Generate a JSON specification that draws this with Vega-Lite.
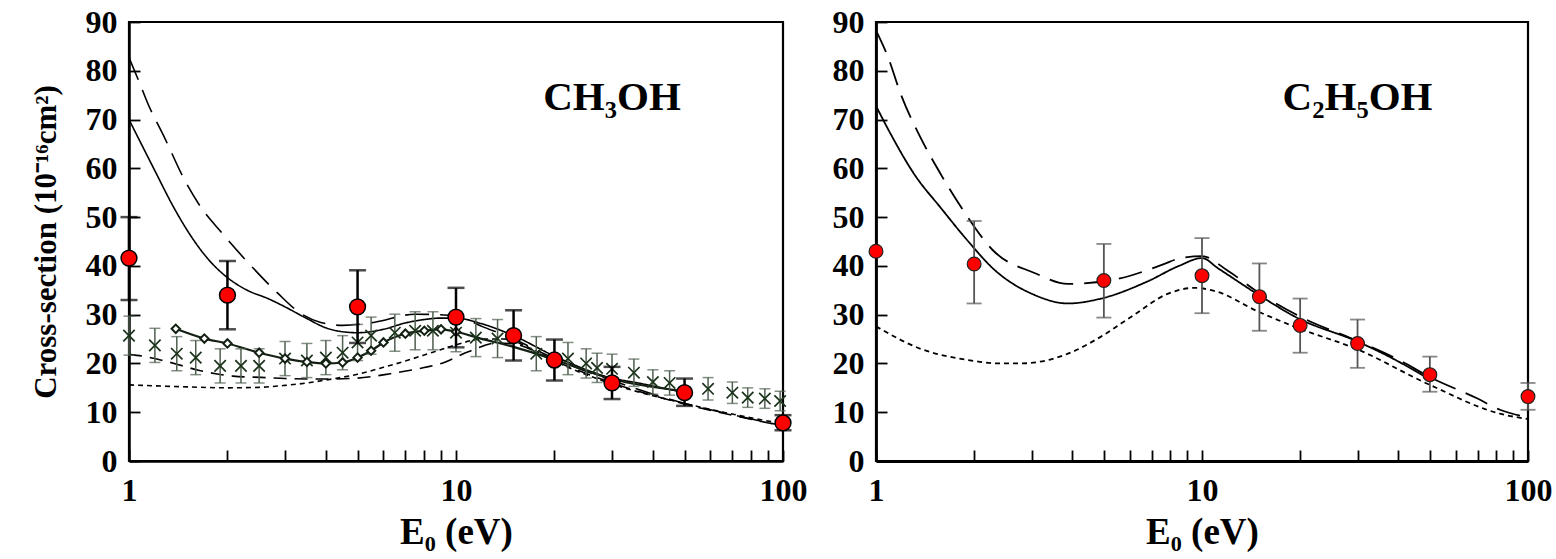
{
  "$schema": "https://vega.github.io/schema/vega-lite/v6.json",
  "background": "white",
  "padding": {"left": 28, "top": 4, "right": 2, "bottom": 0},
  "bounds": "flush",
  "spacing": 93,
  "config": {
    "view": {"stroke": "black", "strokeWidth": 2.2},
    "axis": {
      "labelFont": "Liberation Serif", "labelFontWeight": "bold", "labelFontSize": 32, "labelColor": "black",
      "titleFont": "Liberation Serif", "titleFontWeight": "bold", "titleColor": "black",
      "grid": false, "labelOverlap": false, "labelFlush": false
    }
  },
  "datasets": {
    "ch3_lines": [
      {"E": 1, "cs": 70, "model": "A"}, {"E": 1.1, "cs": 64.5, "model": "A"}, {"E": 1.2, "cs": 59.5, "model": "A"}, {"E": 1.37, "cs": 52, "model": "A"}, {"E": 1.5, "cs": 47.5, "model": "A"}, {"E": 1.74, "cs": 41.5, "model": "A"}, {"E": 2, "cs": 37.6, "model": "A"}, {"E": 2.3, "cs": 35, "model": "A"}, {"E": 2.66, "cs": 33.3, "model": "A"}, {"E": 3, "cs": 31.6, "model": "A"}, {"E": 3.5, "cs": 29.2, "model": "A"}, {"E": 4, "cs": 27.3, "model": "A"}, {"E": 4.5, "cs": 26.5, "model": "A"}, {"E": 5, "cs": 26.3, "model": "A"}, {"E": 6, "cs": 27, "model": "A"}, {"E": 7, "cs": 28.3, "model": "A"}, {"E": 8, "cs": 29, "model": "A"}, {"E": 9, "cs": 29.3, "model": "A"}, {"E": 10, "cs": 29.3, "model": "A"}, {"E": 11.9, "cs": 28.2, "model": "A"}, {"E": 15, "cs": 25.7, "model": "A"}, {"E": 20, "cs": 21.5, "model": "A"}, {"E": 30, "cs": 17, "model": "A"}, {"E": 36, "cs": 16, "model": "A"}, {"E": 50, "cs": 14, "model": "A"},
      {"E": 1, "cs": 82.7, "model": "B"}, {"E": 1.07, "cs": 78, "model": "B"}, {"E": 1.14, "cs": 73.4, "model": "B"}, {"E": 1.28, "cs": 66.5, "model": "B"}, {"E": 1.49, "cs": 57.2, "model": "B"}, {"E": 1.66, "cs": 52, "model": "B"}, {"E": 1.91, "cs": 47, "model": "B"}, {"E": 2.4, "cs": 39.5, "model": "B"}, {"E": 2.85, "cs": 34.4, "model": "B"}, {"E": 3.36, "cs": 30.2, "model": "B"}, {"E": 3.86, "cs": 28.4, "model": "B"}, {"E": 4.5, "cs": 27.8, "model": "B"}, {"E": 5.6, "cs": 28.4, "model": "B"}, {"E": 7.5, "cs": 30.1, "model": "B"}, {"E": 10, "cs": 29.8, "model": "B"}, {"E": 12, "cs": 27.6, "model": "B"}, {"E": 15, "cs": 25, "model": "B"}, {"E": 20, "cs": 21, "model": "B"}, {"E": 30, "cs": 16.5, "model": "B"}, {"E": 50, "cs": 11.8, "model": "B"}, {"E": 70, "cs": 9.5, "model": "B"}, {"E": 100, "cs": 7.2, "model": "B"},
      {"E": 1, "cs": 21.8, "model": "C"}, {"E": 1.1, "cs": 21.5, "model": "C"}, {"E": 1.27, "cs": 20.6, "model": "C"}, {"E": 1.46, "cs": 19.5, "model": "C"}, {"E": 1.63, "cs": 18.6, "model": "C"}, {"E": 1.84, "cs": 17.9, "model": "C"}, {"E": 2.08, "cs": 17.4, "model": "C"}, {"E": 2.62, "cs": 17.1, "model": "C"}, {"E": 3, "cs": 16.9, "model": "C"}, {"E": 4, "cs": 16.8, "model": "C"}, {"E": 5, "cs": 17, "model": "C"}, {"E": 6.3, "cs": 17.9, "model": "C"}, {"E": 7.65, "cs": 18.9, "model": "C"}, {"E": 9.2, "cs": 20.2, "model": "C"}, {"E": 10.9, "cs": 22.4, "model": "C"}, {"E": 13.4, "cs": 24.2, "model": "C"}, {"E": 15, "cs": 24, "model": "C"}, {"E": 20, "cs": 20.5, "model": "C"}, {"E": 30, "cs": 16, "model": "C"}, {"E": 50, "cs": 11.7, "model": "C"}, {"E": 100, "cs": 7.2, "model": "C"},
      {"E": 1, "cs": 15.6, "model": "D"}, {"E": 1.5, "cs": 15.2, "model": "D"}, {"E": 2, "cs": 15, "model": "D"}, {"E": 2.5, "cs": 15.1, "model": "D"}, {"E": 3, "cs": 15.5, "model": "D"}, {"E": 3.5, "cs": 16, "model": "D"}, {"E": 4, "cs": 16.6, "model": "D"}, {"E": 5, "cs": 17.8, "model": "D"}, {"E": 6, "cs": 19.2, "model": "D"}, {"E": 7, "cs": 20.5, "model": "D"}, {"E": 8.5, "cs": 22.3, "model": "D"}, {"E": 10, "cs": 23.8, "model": "D"}, {"E": 12, "cs": 25, "model": "D"}, {"E": 14, "cs": 25, "model": "D"}, {"E": 17, "cs": 23, "model": "D"}, {"E": 20, "cs": 20.5, "model": "D"}, {"E": 30, "cs": 15.8, "model": "D"}, {"E": 50, "cs": 11.8, "model": "D"}, {"E": 100, "cs": 7.6, "model": "D"}
    ],
    "ch3_diam_line": [
      {"E": 1.39, "cs": 27.1}, {"E": 1.7, "cs": 25.1}, {"E": 2, "cs": 24.1}, {"E": 2.5, "cs": 22.2}, {"E": 3, "cs": 21}, {"E": 3.5, "cs": 20.3}, {"E": 4, "cs": 20}, {"E": 4.5, "cs": 20.2}, {"E": 5, "cs": 21.2}, {"E": 5.5, "cs": 22.6}, {"E": 6, "cs": 24.3}, {"E": 7, "cs": 26.1}, {"E": 8, "cs": 26.7}, {"E": 9, "cs": 27}, {"E": 10, "cs": 26.5}, {"E": 11.9, "cs": 25.1}, {"E": 15, "cs": 23.4}, {"E": 20, "cs": 20.8}, {"E": 30, "cs": 16.8}, {"E": 50, "cs": 14.3}
    ],
    "ch3_diam": [
      {"E": 1.39, "cs": 27.1}, {"E": 1.7, "cs": 25.1}, {"E": 2, "cs": 24.1}, {"E": 2.5, "cs": 22.2}, {"E": 3, "cs": 21}, {"E": 3.5, "cs": 20.3}, {"E": 4, "cs": 20}, {"E": 4.5, "cs": 20.2}, {"E": 5, "cs": 21.2}, {"E": 5.5, "cs": 22.6}, {"E": 6, "cs": 24.3}, {"E": 7, "cs": 26.1}, {"E": 8, "cs": 26.7}, {"E": 9, "cs": 27}, {"E": 10, "cs": 26.5}
    ],
    "ch3_cross": [
      {"E": 1, "cs": 25.7}, {"E": 1.2, "cs": 23.7}, {"E": 1.4, "cs": 22}, {"E": 1.6, "cs": 21.2}, {"E": 1.9, "cs": 19.5}, {"E": 2.2, "cs": 19.5}, {"E": 2.5, "cs": 19.5}, {"E": 3, "cs": 21}, {"E": 3.5, "cs": 20.6}, {"E": 4, "cs": 21.2}, {"E": 4.5, "cs": 22.2}, {"E": 5, "cs": 24.3}, {"E": 5.5, "cs": 25.7}, {"E": 6.5, "cs": 26.3}, {"E": 7.5, "cs": 26.7}, {"E": 8.5, "cs": 26.7}, {"E": 10, "cs": 26.3}, {"E": 11.5, "cs": 25.3}, {"E": 13.4, "cs": 25.1}, {"E": 17.6, "cs": 22}, {"E": 22, "cs": 21}, {"E": 25, "cs": 20}, {"E": 27, "cs": 19.1}, {"E": 30, "cs": 18.9}, {"E": 35, "cs": 18.1}, {"E": 40, "cs": 16.2}, {"E": 45, "cs": 16}, {"E": 59, "cs": 14.8}, {"E": 70, "cs": 14}, {"E": 78, "cs": 13}, {"E": 88, "cs": 12.8}, {"E": 98, "cs": 12.3}
    ],
    "ch3_cross_err": [
      {"E": 1, "cs": 21.7}, {"E": 1, "cs": 29.7}, {"E": 1.2, "cs": 20.2}, {"E": 1.2, "cs": 27.2}, {"E": 1.4, "cs": 18.5}, {"E": 1.4, "cs": 25.5}, {"E": 1.6, "cs": 17.7}, {"E": 1.6, "cs": 24.7}, {"E": 1.9, "cs": 16}, {"E": 1.9, "cs": 23}, {"E": 2.2, "cs": 16}, {"E": 2.2, "cs": 23}, {"E": 2.5, "cs": 16}, {"E": 2.5, "cs": 23}, {"E": 3, "cs": 17.5}, {"E": 3, "cs": 24.5}, {"E": 3.5, "cs": 17.1}, {"E": 3.5, "cs": 24.1}, {"E": 4, "cs": 17.7}, {"E": 4, "cs": 24.7}, {"E": 4.5, "cs": 18.7}, {"E": 4.5, "cs": 25.7}, {"E": 5, "cs": 20.6}, {"E": 5, "cs": 28}, {"E": 5.5, "cs": 21.9}, {"E": 5.5, "cs": 29.5}, {"E": 6.5, "cs": 22.5}, {"E": 6.5, "cs": 30.1}, {"E": 7.5, "cs": 22.8}, {"E": 7.5, "cs": 30.6}, {"E": 8.5, "cs": 22.8}, {"E": 8.5, "cs": 30.6}, {"E": 10, "cs": 22.4}, {"E": 10, "cs": 30.2}, {"E": 11.5, "cs": 21.4}, {"E": 11.5, "cs": 29.2}, {"E": 13.4, "cs": 21.2}, {"E": 13.4, "cs": 29}, {"E": 17.6, "cs": 18.5}, {"E": 17.6, "cs": 25.5}, {"E": 22, "cs": 17.7}, {"E": 22, "cs": 24.3}, {"E": 25, "cs": 17}, {"E": 25, "cs": 23}, {"E": 27, "cs": 16.1}, {"E": 27, "cs": 22.1}, {"E": 30, "cs": 15.9}, {"E": 30, "cs": 21.9}, {"E": 35, "cs": 15.3}, {"E": 35, "cs": 20.9}, {"E": 40, "cs": 13.7}, {"E": 40, "cs": 18.7}, {"E": 45, "cs": 13.5}, {"E": 45, "cs": 18.5}, {"E": 59, "cs": 12.5}, {"E": 59, "cs": 17.1}, {"E": 70, "cs": 11.8}, {"E": 70, "cs": 16.2}, {"E": 78, "cs": 11}, {"E": 78, "cs": 15}, {"E": 88, "cs": 10.8}, {"E": 88, "cs": 14.8}, {"E": 98, "cs": 10.3}, {"E": 98, "cs": 14.3}
    ],
    "ch3_pts": [
      {"E": 1, "cs": 41.6}, {"E": 2, "cs": 34}, {"E": 5, "cs": 31.6}, {"E": 10, "cs": 29.5}, {"E": 15, "cs": 25.7}, {"E": 20, "cs": 20.7}, {"E": 30, "cs": 16}, {"E": 50, "cs": 14}, {"E": 100, "cs": 7.8}
    ],
    "ch3_pts_err": [
      {"E": 1, "cs": 33}, {"E": 1, "cs": 50}, {"E": 2, "cs": 27}, {"E": 2, "cs": 41}, {"E": 5, "cs": 24.2}, {"E": 5, "cs": 39.1}, {"E": 10, "cs": 23.3}, {"E": 10, "cs": 35.5}, {"E": 15, "cs": 20.6}, {"E": 15, "cs": 30.9}, {"E": 20, "cs": 16.5}, {"E": 20, "cs": 24.9}, {"E": 30, "cs": 12.7}, {"E": 30, "cs": 19.3}, {"E": 50, "cs": 11.3}, {"E": 50, "cs": 16.9}, {"E": 100, "cs": 6.3}, {"E": 100, "cs": 9.4}
    ],
    "c2_lines": [
      {"E": 1, "cs": 72.8, "model": "A"}, {"E": 1.11, "cs": 67, "model": "A"}, {"E": 1.31, "cs": 58.8, "model": "A"}, {"E": 1.58, "cs": 51.9, "model": "A"}, {"E": 1.92, "cs": 45, "model": "A"}, {"E": 2.3, "cs": 39.3, "model": "A"}, {"E": 3.05, "cs": 34.1, "model": "A"}, {"E": 3.88, "cs": 32.3, "model": "A"}, {"E": 4.9, "cs": 33.3, "model": "A"}, {"E": 6.8, "cs": 36.8, "model": "A"}, {"E": 8.5, "cs": 40, "model": "A"}, {"E": 10, "cs": 41.6, "model": "A"}, {"E": 11.2, "cs": 39.5, "model": "A"}, {"E": 14.8, "cs": 34.2, "model": "A"}, {"E": 19.8, "cs": 29.2, "model": "A"}, {"E": 29.7, "cs": 24.6, "model": "A"}, {"E": 38, "cs": 21.2, "model": "A"}, {"E": 50, "cs": 16.7, "model": "A"},
      {"E": 1, "cs": 88.3, "model": "B"}, {"E": 1.09, "cs": 82.7, "model": "B"}, {"E": 1.19, "cs": 75.3, "model": "B"}, {"E": 1.37, "cs": 66.3, "model": "B"}, {"E": 1.58, "cs": 58.8, "model": "B"}, {"E": 1.86, "cs": 51.2, "model": "B"}, {"E": 2.3, "cs": 43, "model": "B"}, {"E": 3.05, "cs": 38.6, "model": "B"}, {"E": 3.88, "cs": 36.3, "model": "B"}, {"E": 5.4, "cs": 37.2, "model": "B"}, {"E": 7.6, "cs": 40.3, "model": "B"}, {"E": 8.6, "cs": 41.6, "model": "B"}, {"E": 10, "cs": 42, "model": "B"}, {"E": 12, "cs": 39, "model": "B"}, {"E": 15, "cs": 34.4, "model": "B"}, {"E": 20, "cs": 29.6, "model": "B"}, {"E": 30, "cs": 24.6, "model": "B"}, {"E": 40, "cs": 20.8, "model": "B"}, {"E": 50, "cs": 17.2, "model": "B"}, {"E": 70, "cs": 12.8, "model": "B"}, {"E": 82, "cs": 10.5, "model": "B"}, {"E": 100, "cs": 9, "model": "B"},
      {"E": 1, "cs": 27.6, "model": "D"}, {"E": 1.37, "cs": 23, "model": "D"}, {"E": 1.92, "cs": 20.7, "model": "D"}, {"E": 2.37, "cs": 20, "model": "D"}, {"E": 2.78, "cs": 20, "model": "D"}, {"E": 3.88, "cs": 22, "model": "D"}, {"E": 4.9, "cs": 25.5, "model": "D"}, {"E": 6.2, "cs": 30, "model": "D"}, {"E": 7.8, "cs": 34.2, "model": "D"}, {"E": 9.5, "cs": 35.5, "model": "D"}, {"E": 11, "cs": 34.8, "model": "D"}, {"E": 14.8, "cs": 30.7, "model": "D"}, {"E": 19.8, "cs": 27.2, "model": "D"}, {"E": 29.7, "cs": 23, "model": "D"}, {"E": 50, "cs": 15.6, "model": "D"}, {"E": 82, "cs": 9.7, "model": "D"}, {"E": 100, "cs": 8.6, "model": "D"}
    ],
    "c2_pts": [
      {"E": 1, "cs": 43}, {"E": 2, "cs": 40.4}, {"E": 5, "cs": 37}, {"E": 10, "cs": 38}, {"E": 15, "cs": 33.7}, {"E": 20, "cs": 27.8}, {"E": 30, "cs": 24.1}, {"E": 50, "cs": 17.7}, {"E": 100, "cs": 13.2}
    ],
    "c2_pts_err": [
      {"E": 2, "cs": 32.3}, {"E": 2, "cs": 49.2}, {"E": 5, "cs": 29.4}, {"E": 5, "cs": 44.5}, {"E": 10, "cs": 30.3}, {"E": 10, "cs": 45.7}, {"E": 15, "cs": 26.7}, {"E": 15, "cs": 40.5}, {"E": 20, "cs": 22.2}, {"E": 20, "cs": 33.3}, {"E": 30, "cs": 19.1}, {"E": 30, "cs": 29}, {"E": 50, "cs": 14.2}, {"E": 50, "cs": 21.4}, {"E": 100, "cs": 10.5}, {"E": 100, "cs": 16}
    ],
    "labels": [
      {"panel": "left", "E": 30, "cs": 74.5, "txt": "CH₃OH"},
      {"panel": "right", "E": 30, "cs": 74.5, "txt": "C₂H₅OH"}
    ]
  },
  "hconcat": [
    {
      "width": 654, "height": 439,
      "layer": [
        {
          "data": {"name": "ch3_lines"},
          "mark": {"type": "line", "color": "black", "strokeWidth": 1.6, "interpolate": "monotone"},
          "encoding": {
            "x": {"field": "E", "type": "quantitative",
              "scale": {"type": "log", "domain": [1, 100]},
              "axis": {"title": "E₀ (eV)", "titleFontSize": 37, "titlePadding": 8,
                "values": [1, 2, 3, 4, 5, 6, 7, 8, 9, 10, 20, 30, 40, 50, 60, 70, 80, 90, 100],
                "labelExpr": "indexof([1,10,100], datum.value) >= 0 ? datum.label : ''", "format": "d",
                "tickSize": -11, "tickColor": "black", "tickWidth": 1.8,
                "domainColor": "black", "domainWidth": 2.5, "labelPadding": 25}},
            "y": {"field": "cs", "type": "quantitative",
              "scale": {"domain": [0, 90]},
              "axis": {"title": "Cross-section (10⁻¹⁶cm²)", "titleFontSize": 31, "titlePadding": 23,
                "values": [0, 2.5, 5, 7.5, 10, 12.5, 15, 17.5, 20, 22.5, 25, 27.5, 30, 32.5, 35, 37.5, 40, 42.5, 45, 47.5, 50, 52.5, 55, 57.5, 60, 62.5, 65, 67.5, 70, 72.5, 75, 77.5, 80, 82.5, 85, 87.5, 90],
                "labelExpr": "datum.value % 10 == 0 ? datum.label : ''",
                "tickSize": -11, "tickColor": "black", "tickWidth": 1.8,
                "domainColor": "black", "domainWidth": 2.5, "labelPadding": 23}},
            "strokeDash": {"field": "model", "type": "nominal",
              "scale": {"domain": ["A", "B", "C", "D"], "range": [[1, 0], [24, 11], [13, 8], [5, 4]]},
              "legend": null}
          }
        },
        {
          "data": {"name": "ch3_diam_line"},
          "mark": {"type": "line", "color": "#142014", "strokeWidth": 2.2, "interpolate": "monotone"},
          "encoding": {"x": {"field": "E", "type": "quantitative"}, "y": {"field": "cs", "type": "quantitative"}}
        },
        {
          "data": {"name": "ch3_cross_err"},
          "mark": {"type": "line", "color": "#4f5f4f", "strokeWidth": 1.5},
          "encoding": {"x": {"field": "E", "type": "quantitative"}, "y": {"field": "cs", "type": "quantitative"}, "detail": {"field": "E", "type": "nominal"}}
        },
        {
          "data": {"name": "ch3_cross_err"},
          "mark": {"type": "tick", "orient": "horizontal", "color": "#4f5f4f", "size": 11, "thickness": 1.5},
          "encoding": {"x": {"field": "E", "type": "quantitative"}, "y": {"field": "cs", "type": "quantitative"}}
        },
        {
          "data": {"name": "ch3_cross"},
          "mark": {"type": "point", "shape": "M-1,-1L1,1M-1,1L1,-1", "filled": false, "stroke": "#1b321b", "strokeWidth": 1.7, "size": 130, "opacity": 1},
          "encoding": {"x": {"field": "E", "type": "quantitative"}, "y": {"field": "cs", "type": "quantitative"}}
        },
        {
          "data": {"name": "ch3_diam"},
          "mark": {"type": "point", "shape": "diamond", "filled": true, "fill": "white", "stroke": "#142014", "strokeWidth": 2, "size": 70, "opacity": 1},
          "encoding": {"x": {"field": "E", "type": "quantitative"}, "y": {"field": "cs", "type": "quantitative"}}
        },
        {
          "data": {"name": "ch3_pts_err"},
          "mark": {"type": "line", "color": "black", "strokeWidth": 2.5},
          "encoding": {"x": {"field": "E", "type": "quantitative"}, "y": {"field": "cs", "type": "quantitative"}, "detail": {"field": "E", "type": "nominal"}}
        },
        {
          "data": {"name": "ch3_pts_err"},
          "mark": {"type": "tick", "orient": "horizontal", "color": "black", "size": 17, "thickness": 2.5},
          "encoding": {"x": {"field": "E", "type": "quantitative"}, "y": {"field": "cs", "type": "quantitative"}}
        },
        {
          "data": {"name": "ch3_pts"},
          "mark": {"type": "point", "shape": "circle", "filled": true, "fill": "#ff0000", "stroke": "black", "strokeWidth": 1.5, "size": 250, "opacity": 1},
          "encoding": {"x": {"field": "E", "type": "quantitative"}, "y": {"field": "cs", "type": "quantitative"}}
        },
        {
          "data": {"name": "labels"},
          "transform": [{"filter": "datum.panel == 'left'"}],
          "mark": {"type": "text", "font": "Liberation Serif", "fontWeight": "bold", "fontSize": 41, "color": "black", "align": "center", "baseline": "middle"},
          "encoding": {"x": {"field": "E", "type": "quantitative"}, "y": {"field": "cs", "type": "quantitative"}, "text": {"field": "txt"}}
        }
      ]
    },
    {
      "width": 652, "height": 439,
      "layer": [
        {
          "data": {"name": "c2_lines"},
          "mark": {"type": "line", "color": "black", "strokeWidth": 1.8, "interpolate": "monotone"},
          "encoding": {
            "x": {"field": "E", "type": "quantitative",
              "scale": {"type": "log", "domain": [1, 100]},
              "axis": {"title": "E₀ (eV)", "titleFontSize": 37, "titlePadding": 8,
                "values": [1, 2, 3, 4, 5, 6, 7, 8, 9, 10, 20, 30, 40, 50, 60, 70, 80, 90, 100],
                "labelExpr": "indexof([1,10,100], datum.value) >= 0 ? datum.label : ''", "format": "d",
                "tickSize": -11, "tickColor": "black", "tickWidth": 1.8,
                "domainColor": "black", "domainWidth": 2.8, "labelPadding": 25}},
            "y": {"field": "cs", "type": "quantitative",
              "scale": {"domain": [0, 90]},
              "axis": {"title": null,
                "values": [0, 2.5, 5, 7.5, 10, 12.5, 15, 17.5, 20, 22.5, 25, 27.5, 30, 32.5, 35, 37.5, 40, 42.5, 45, 47.5, 50, 52.5, 55, 57.5, 60, 62.5, 65, 67.5, 70, 72.5, 75, 77.5, 80, 82.5, 85, 87.5, 90],
                "labelExpr": "datum.value % 10 == 0 ? datum.label : ''",
                "tickSize": -11, "tickColor": "black", "tickWidth": 1.8,
                "domainColor": "black", "domainWidth": 2.8, "labelPadding": 23}},
            "strokeDash": {"field": "model", "type": "nominal",
              "scale": {"domain": ["A", "B", "D"], "range": [[1, 0], [16, 6, 3, 6], [5, 4]]},
              "legend": null}
          }
        },
        {
          "data": {"name": "c2_pts_err"},
          "mark": {"type": "line", "color": "#555555", "strokeWidth": 1.8},
          "encoding": {"x": {"field": "E", "type": "quantitative"}, "y": {"field": "cs", "type": "quantitative"}, "detail": {"field": "E", "type": "nominal"}}
        },
        {
          "data": {"name": "c2_pts_err"},
          "mark": {"type": "tick", "orient": "horizontal", "color": "#555555", "size": 15, "thickness": 1.8},
          "encoding": {"x": {"field": "E", "type": "quantitative"}, "y": {"field": "cs", "type": "quantitative"}}
        },
        {
          "data": {"name": "c2_pts"},
          "mark": {"type": "point", "shape": "circle", "filled": true, "fill": "#ff0000", "stroke": "#222222", "strokeWidth": 1.2, "size": 190, "opacity": 1},
          "encoding": {"x": {"field": "E", "type": "quantitative"}, "y": {"field": "cs", "type": "quantitative"}}
        },
        {
          "data": {"name": "labels"},
          "transform": [{"filter": "datum.panel == 'right'"}],
          "mark": {"type": "text", "font": "Liberation Serif", "fontWeight": "bold", "fontSize": 41, "color": "black", "align": "center", "baseline": "middle"},
          "encoding": {"x": {"field": "E", "type": "quantitative"}, "y": {"field": "cs", "type": "quantitative"}, "text": {"field": "txt"}}
        }
      ]
    }
  ]
}
